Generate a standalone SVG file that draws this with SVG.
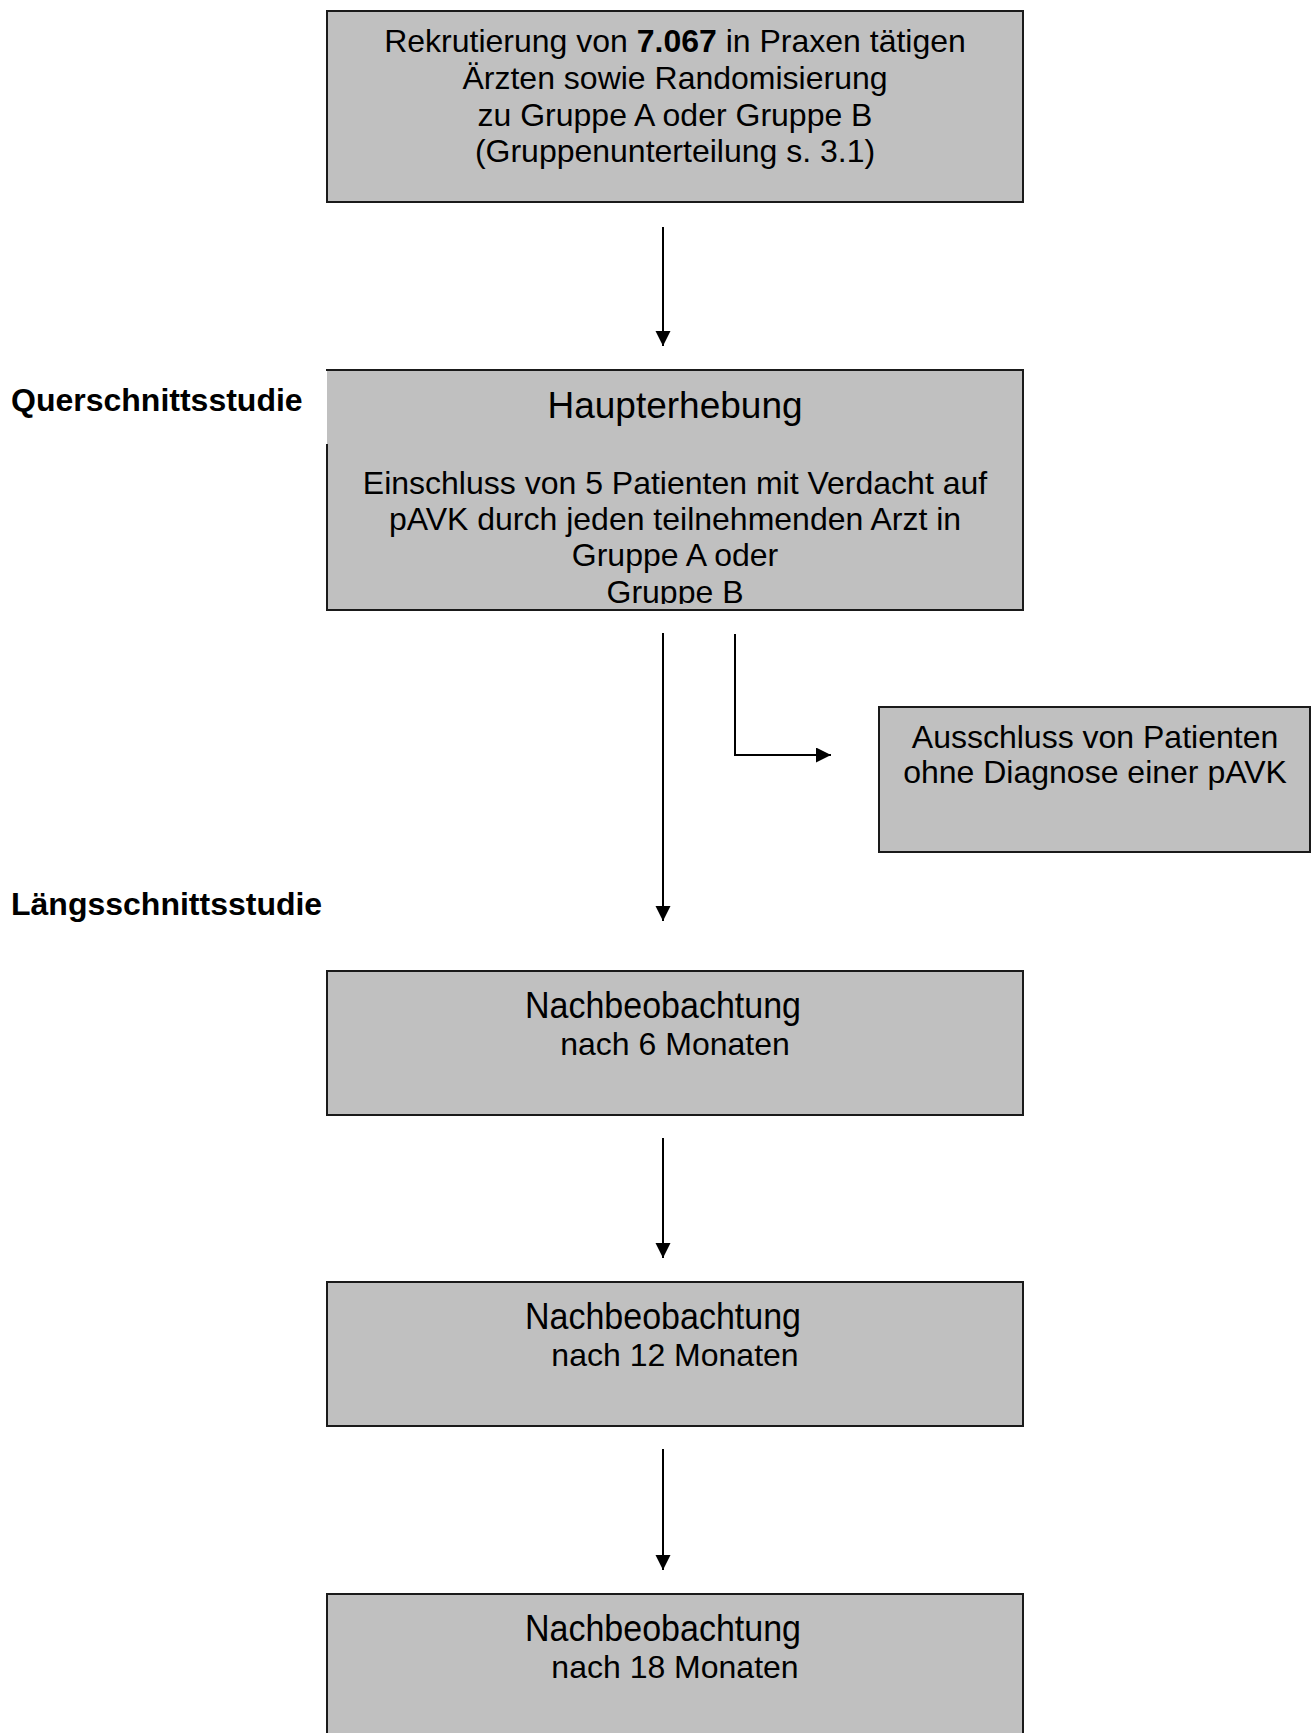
<svg xmlns="http://www.w3.org/2000/svg" width="1312" height="1733" viewBox="0 0 1312 1733">
<style>
  .box { fill: #c0c0c0; stroke: #1a1a1a; stroke-width: 2; }
  .fill { fill: #c0c0c0; stroke: none; }
  .edge { stroke: #1a1a1a; stroke-width: 2; fill: none; }
  .t { font-family: "Liberation Sans", Arial, sans-serif; font-size: 32px; fill: #000; text-anchor: middle; }
  .title { font-family: "Liberation Sans", Arial, sans-serif; font-size: 37px; fill: #000; text-anchor: middle; }
  .lbl { font-family: "Liberation Sans", Arial, sans-serif; font-size: 32px; font-weight: bold; fill: #000; }
  .conn { stroke: #000; stroke-width: 2; fill: none; }
</style>
<defs>
  <marker id="arrow" markerUnits="userSpaceOnUse" markerWidth="16" markerHeight="16" refX="15" refY="7.5" orient="auto">
    <path d="M0,0 L15,7.5 L0,15 Z" fill="#000"/>
  </marker>
  <clipPath id="clipHaupt">
    <rect x="327" y="370" width="696" height="234"/>
  </clipPath>
</defs>
<rect width="1312" height="1733" fill="#fff"/>

<text class="lbl" x="11" y="411">Querschnittsstudie</text>
<text class="lbl" x="11" y="915">Längsschnittsstudie</text>

<g id="rekrutierung">
  <rect class="box" x="327" y="11" width="696" height="191"/>
  <text class="t" x="675" y="52">Rekrutierung von <tspan font-weight="bold">7.067</tspan> in Praxen tätigen</text>
  <text class="t" x="675" y="89">Ärzten sowie Randomisierung</text>
  <text class="t" x="675" y="126">zu Gruppe A oder Gruppe B</text>
  <text class="t" x="675" y="162">(Gruppenunterteilung s. 3.1)</text>
</g>

<g id="haupterhebung">
  <rect class="fill" x="327" y="370" width="696" height="240"/>
  <path class="edge" d="M327,444 L327,610 L1023,610 L1023,370 L326,370"/>
  <g clip-path="url(#clipHaupt)">
    <text class="title" x="675" y="418">Haupterhebung</text>
    <text class="t" x="675" y="494">Einschluss von 5 Patienten mit Verdacht auf</text>
    <text class="t" x="675" y="530">pAVK durch jeden teilnehmenden Arzt in</text>
    <text class="t" x="675" y="566">Gruppe A oder</text>
    <text class="t" x="675" y="603">Gruppe B</text>
  </g>
</g>

<g id="ausschluss">
  <rect class="box" x="879" y="707" width="431" height="145"/>
  <text class="t" x="1095" y="748">Ausschluss von Patienten</text>
  <text class="t" x="1095" y="783">ohne Diagnose einer pAVK</text>
</g>

<g id="nach6">
  <rect class="box" x="327" y="971" width="696" height="144"/>
  <text class="title" x="663" y="1018" textLength="276" lengthAdjust="spacingAndGlyphs">Nachbeobachtung</text>
  <text class="t" x="675" y="1055">nach 6 Monaten</text>
</g>

<g id="nach12">
  <rect class="box" x="327" y="1282" width="696" height="144"/>
  <text class="title" x="663" y="1329" textLength="276" lengthAdjust="spacingAndGlyphs">Nachbeobachtung</text>
  <text class="t" x="675" y="1366">nach 12 Monaten</text>
</g>

<g id="nach18">
  <rect class="box" x="327" y="1594" width="696" height="144"/>
  <text class="title" x="663" y="1641" textLength="276" lengthAdjust="spacingAndGlyphs">Nachbeobachtung</text>
  <text class="t" x="675" y="1678">nach 18 Monaten</text>
</g>

<g id="connectors">
  <line class="conn" x1="663" y1="227" x2="663" y2="346" marker-end="url(#arrow)"/>
  <line class="conn" x1="663" y1="633" x2="663" y2="921" marker-end="url(#arrow)"/>
  <polyline class="conn" points="735,634 735,755 831,755" marker-end="url(#arrow)"/>
  <line class="conn" x1="663" y1="1138" x2="663" y2="1258" marker-end="url(#arrow)"/>
  <line class="conn" x1="663" y1="1449" x2="663" y2="1570" marker-end="url(#arrow)"/>
</g>
</svg>
